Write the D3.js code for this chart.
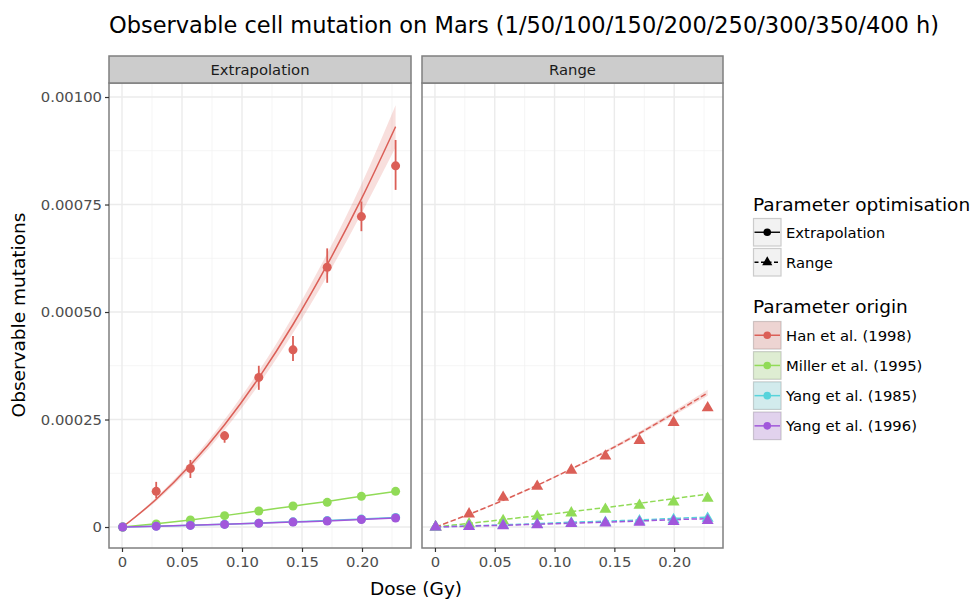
<!DOCTYPE html>
<html><head><meta charset="utf-8">
<script src="https://cdn.jsdelivr.net/npm/d3@7"></script>
<style>body{margin:0;background:#fff}svg{display:block;font-family:"DejaVu Sans",sans-serif}</style>
</head><body><svg id="c" width="978" height="599"></svg>
<script>
// ---------- data ----------
const doses = [0.00057, 0.0285, 0.057, 0.0855, 0.114, 0.1425, 0.171, 0.1995, 0.228];
const panels = ["Extrapolation", "Range"];
const origins = ["Han et al. (1998)", "Miller et al. (1995)", "Yang et al. (1985)", "Yang et al. (1996)"];
const colors = ["#db5f57", "#91db57", "#57d3db", "#a157db"];
const xTicks = [0, 0.05, 0.10, 0.15, 0.20];
const xTickLabels = ["0", "0.05", "0.10", "0.15", "0.20"];
const yTicks = [0, 0.00025, 0.0005, 0.00075, 0.001];
const yTickLabels = ["0", "0.00025", "0.00050", "0.00075", "0.00100"];

// Extrapolation: observed points
const hanExtObs = [0, 0.000083, 0.000136, 0.000212, 0.000348, 0.000412, 0.000604, 0.000722, 0.000840];
const hanExtLo  = [0, 0.0000667, 0.000114, 0.000196, 0.000319, 0.000386, 0.000568, 0.000688, 0.000784];
const hanExtHi  = [0, 0.000105, 0.000156, 0.000223, 0.000375, 0.000444, 0.000648, 0.000757, 0.000900];
const millerExtObs = [0, 0.000007, 0.0000163, 0.0000264, 0.0000372, 0.0000488, 0.0000574, 0.0000713, 0.000083];
const yang85ExtObs = [0, 0.000002, 0.000004, 0.0000065, 0.000009, 0.000012, 0.000015, 0.0000185, 0.000022];
const yang96ExtObs = [0, 0.0000018, 0.0000038, 0.000006, 0.0000085, 0.0000115, 0.000014, 0.0000175, 0.000021];
// Extrapolation: fitted curves and bands
const hanExtFit = [0, 0.0000645, 0.000144, 0.000238, 0.000347, 0.000471, 0.00061, 0.000763, 0.000931];
const hanExtFitLo = [0, 0.00006, 0.000136, 0.000226, 0.000331, 0.000451, 0.000584, 0.000729, 0.000883];
const hanExtFitHi = [0, 0.000069, 0.000152, 0.00025, 0.000363, 0.000491, 0.000636, 0.000797, 0.000981];
const millerExtFit = [0, 0.0000075, 0.0000165, 0.0000265, 0.0000375, 0.0000485, 0.0000595, 0.0000715, 0.000083];
const yang85ExtFit = [0, 0.000002, 0.0000042, 0.0000066, 0.0000092, 0.000012, 0.000015, 0.0000185, 0.000022];
const yang96ExtFit = [0, 0.0000019, 0.0000039, 0.0000062, 0.0000087, 0.0000115, 0.0000142, 0.0000175, 0.000021];

// Range: observed points
const hanRangeObs = [0, 0.0000302, 0.000069, 0.0000947, 0.000132, 0.000165, 0.000201, 0.000243, 0.000277];
const millerRangeObs = [0, 0.000007, 0.0000147, 0.0000249, 0.0000326, 0.0000412, 0.0000505, 0.0000581, 0.0000667];
const yang85RangeObs = [0, 0.0000015, 0.000004, 0.000006, 0.000009, 0.000011, 0.000014, 0.000017, 0.00002];
const yang96RangeObs = [0, 0.000001, 0.000003, 0.000005, 0.000008, 0.000009, 0.000011, 0.000013, 0.000015];
// Range: fitted lines and bands
const hanRangeFit = [0, 0.0000296, 0.000062, 0.000097, 0.000135, 0.000175, 0.000218, 0.000264, 0.000312];
const hanRangeFitLo = [0, 0.0000291, 0.000061, 0.0000955, 0.000133, 0.000172, 0.000214, 0.000259, 0.000305];
const hanRangeFitHi = [0, 0.0000301, 0.000063, 0.0000985, 0.000137, 0.000178, 0.000222, 0.000269, 0.000319];
const millerRangeFit = [0, 0.0000085, 0.0000173, 0.0000263, 0.0000357, 0.0000453, 0.0000553, 0.0000658, 0.0000767];
const yang85RangeFit = [0, 0.0000025, 0.000005, 0.0000078, 0.000011, 0.0000135, 0.0000165, 0.00002, 0.000023];
const yang96RangeFit = [0, 0.000002, 0.000004, 0.0000065, 0.000009, 0.0000115, 0.000014, 0.000017, 0.0000195];

// ---------- assemble ----------
const series = {
  Extrapolation: [
    {obs: hanExtObs, lo: hanExtLo, hi: hanExtHi, fit: hanExtFit, fitLo: hanExtFitLo, fitHi: hanExtFitHi},
    {obs: millerExtObs, fit: millerExtFit},
    {obs: yang85ExtObs, fit: yang85ExtFit},
    {obs: yang96ExtObs, fit: yang96ExtFit}
  ],
  Range: [
    {obs: hanRangeObs, fit: hanRangeFit, fitLo: hanRangeFitLo, fitHi: hanRangeFitHi},
    {obs: millerRangeObs, fit: millerRangeFit},
    {obs: yang85RangeObs, fit: yang85RangeFit},
    {obs: yang96RangeObs, fit: yang96RangeFit}
  ]
};

const svg = d3.select("#c");
const panelTop = 83, panelBottom = 548, stripTop = 56;
const panelX = [[109, 411], [422, 723]];
const xDomain = [-(13/1200), (302-13)/1200];
const y = d3.scaleLinear().domain([-0.0000488, 0.0010326]).range([panelBottom, panelTop]);

// title
svg.append("text").attr("x", 524).attr("y", 33).attr("text-anchor", "middle")
  .attr("font-size", 22.5).attr("fill", "#000")
  .text("Observable cell mutation on Mars (1/50/100/150/200/250/300/350/400 h)");

const triangle = d3.symbol().type(d3.symbolTriangle).size(62);

panels.forEach((p, pi) => {
  const [x0, x1] = panelX[pi];
  const x = d3.scaleLinear().domain(xDomain).range([x0, x1]);
  const g = svg.append("g");
  g.append("rect").attr("x", x0).attr("y", panelTop).attr("width", x1 - x0).attr("height", panelBottom - panelTop).attr("fill", "#fff");
  const xMinor = [0.025, 0.075, 0.125, 0.175, 0.225];
  const yMinor = [0.000125, 0.000375, 0.000625, 0.000875];
  xMinor.forEach(v => g.append("line").attr("x1", x(v)).attr("x2", x(v)).attr("y1", panelTop).attr("y2", panelBottom).attr("stroke", "#f2f2f2").attr("stroke-width", 0.8));
  yMinor.forEach(v => g.append("line").attr("x1", x0).attr("x2", x1).attr("y1", y(v)).attr("y2", y(v)).attr("stroke", "#f2f2f2").attr("stroke-width", 0.8));
  xTicks.forEach(v => g.append("line").attr("x1", x(v)).attr("x2", x(v)).attr("y1", panelTop).attr("y2", panelBottom).attr("stroke", "#ebebeb").attr("stroke-width", 1.4));
  yTicks.forEach(v => g.append("line").attr("x1", x0).attr("x2", x1).attr("y1", y(v)).attr("y2", y(v)).attr("stroke", "#ebebeb").attr("stroke-width", 1.4));

  const clipId = "clip" + pi;
  svg.append("clipPath").attr("id", clipId).append("rect").attr("x", x0).attr("y", panelTop).attr("width", x1 - x0).attr("height", panelBottom - panelTop);
  const d = g.append("g").attr("clip-path", `url(#${clipId})`);

  const sers = series[p];
  const line = d3.line().x((v, i) => x(doses[i])).y(v => y(v)).curve(d3.curveMonotoneX);
  sers.forEach((s, si) => {
    if (s.fitLo) {
      const area = d3.area().x((v, i) => x(doses[i])).y0((v, i) => y(s.fitLo[i])).y1((v, i) => y(s.fitHi[i])).curve(d3.curveMonotoneX);
      d.append("path").attr("d", area(s.fit)).attr("fill", colors[si]).attr("opacity", 0.2);
    }
  });
  sers.forEach((s, si) => {
    d.append("path").attr("d", line(s.fit)).attr("fill", "none").attr("stroke", colors[si]).attr("stroke-width", 1.5)
      .attr("stroke-dasharray", p === "Range" ? "5.5,2.5" : null);
  });
  sers.forEach((s, si) => {
    s.obs.forEach((v, i) => {
      if (p === "Extrapolation") {
        d.append("circle").attr("cx", x(doses[i])).attr("cy", y(v)).attr("r", 4.5).attr("fill", colors[si]);
      } else {
        d.append("path").attr("d", triangle).attr("transform", `translate(${x(doses[i])},${y(v)})`).attr("fill", colors[si]);
      }
    });
    if (s.lo) {
      s.lo.forEach((v, i) => {
        if (s.hi[i] - v > 0) d.append("line").attr("x1", x(doses[i])).attr("x2", x(doses[i])).attr("y1", y(v)).attr("y2", y(s.hi[i])).attr("stroke", colors[si]).attr("stroke-width", 1.8);
      });
    }
  });
  g.append("rect").attr("x", x0).attr("y", panelTop).attr("width", x1 - x0).attr("height", panelBottom - panelTop).attr("fill", "none").attr("stroke", "#7f7f7f").attr("stroke-width", 1.5);
  g.append("rect").attr("x", x0).attr("y", stripTop).attr("width", x1 - x0).attr("height", panelTop - stripTop).attr("fill", "#cccccc").attr("stroke", "#7f7f7f").attr("stroke-width", 1.5);
  g.append("text").attr("x", (x0 + x1) / 2).attr("y", (stripTop + panelTop) / 2).attr("dy", "0.36em").attr("text-anchor", "middle").attr("font-size", 14.8).attr("fill", "#1a1a1a").text(p);
  const xa = g.append("g").attr("transform", `translate(0,${panelBottom})`)
    .call(d3.axisBottom(x).tickValues(xTicks).tickFormat((v, i) => xTickLabels[i]).tickSize(4).tickPadding(4));
  xa.select(".domain").remove();
  xa.selectAll("line").attr("stroke", "#333").attr("stroke-width", 1.2);
  xa.selectAll("text").attr("font-size", 14.8).attr("fill", "#4d4d4d").attr("font-family", "DejaVu Sans");
  if (pi === 0) {
    const ya = g.append("g").attr("transform", `translate(${x0},0)`)
      .call(d3.axisLeft(y).tickValues(yTicks).tickFormat((v, i) => yTickLabels[i]).tickSize(4).tickPadding(3));
    ya.select(".domain").remove();
    ya.selectAll("line").attr("stroke", "#333").attr("stroke-width", 1.2);
    ya.selectAll("text").attr("font-size", 14.8).attr("fill", "#4d4d4d").attr("font-family", "DejaVu Sans");
  }
});

svg.append("text").attr("x", 416).attr("y", 595).attr("text-anchor", "middle").attr("font-size", 18.5).attr("fill", "#000").text("Dose (Gy)");
svg.append("text").attr("transform", "translate(25,315) rotate(-90)").attr("text-anchor", "middle").attr("font-size", 18.5).attr("fill", "#000").text("Observable mutations");

const lg = svg.append("g");
const kx = 753.5, kw = 27.5;
lg.append("text").attr("x", 753).attr("y", 211).attr("font-size", 18.5).attr("fill", "#000").text("Parameter optimisation");
const optKeys = [{label: "Extrapolation", dash: null, shape: "circle"}, {label: "Range", dash: "4,2.5", shape: "tri"}];
optKeys.forEach((k, i) => {
  const ky = 218.5 + i * 30;
  lg.append("rect").attr("x", kx).attr("y", ky).attr("width", kw).attr("height", kw).attr("fill", "#f2f2f2").attr("stroke", "#cccccc").attr("stroke-width", 1.2);
  lg.append("line").attr("x1", kx + 1).attr("x2", kx + kw - 1).attr("y1", ky + kw / 2).attr("y2", ky + kw / 2).attr("stroke", "#000").attr("stroke-width", 1.4).attr("stroke-dasharray", k.dash);
  if (k.shape === "circle") lg.append("circle").attr("cx", kx + kw / 2).attr("cy", ky + kw / 2).attr("r", 3.8).attr("fill", "#000");
  else lg.append("path").attr("d", d3.symbol().type(d3.symbolTriangle).size(45)).attr("transform", `translate(${kx + kw / 2},${ky + kw / 2})`).attr("fill", "#000");
  lg.append("text").attr("x", 786).attr("y", ky + kw / 2).attr("dy", "0.36em").attr("font-size", 14.8).attr("fill", "#000").text(k.label);
});
lg.append("text").attr("x", 753).attr("y", 313).attr("font-size", 18.5).attr("fill", "#000").text("Parameter origin");
origins.forEach((o, i) => {
  const ky = 321.5 + i * 30.2;
  lg.append("rect").attr("x", kx).attr("y", ky).attr("width", kw).attr("height", kw).attr("fill", "#f2f2f2").attr("stroke", "#cccccc").attr("stroke-width", 1.2);
  lg.append("rect").attr("x", kx).attr("y", ky).attr("width", kw).attr("height", kw).attr("fill", colors[i]).attr("opacity", 0.2);
  lg.append("line").attr("x1", kx + 1).attr("x2", kx + kw - 1).attr("y1", ky + kw / 2).attr("y2", ky + kw / 2).attr("stroke", colors[i]).attr("stroke-width", 1.5);
  lg.append("circle").attr("cx", kx + kw / 2).attr("cy", ky + kw / 2).attr("r", 3.8).attr("fill", colors[i]);
  lg.append("text").attr("x", 786).attr("y", ky + kw / 2).attr("dy", "0.36em").attr("font-size", 14.8).attr("fill", "#000").text(o);
});
</script></body></html>
